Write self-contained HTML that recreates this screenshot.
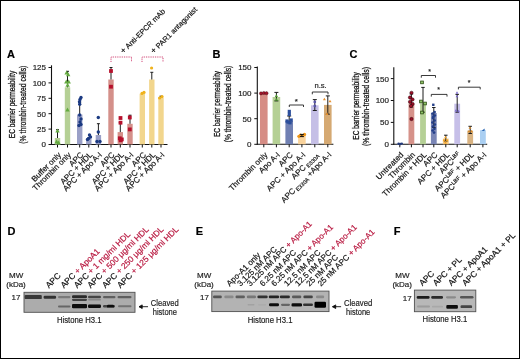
<!DOCTYPE html>
<html><head><meta charset="utf-8"><style>
html,body{margin:0;padding:0;background:#fff;}
body{width:520px;height:359px;overflow:hidden;}
svg{display:block;will-change:transform;font-family:"Liberation Sans", sans-serif;}
</style></head><body>
<svg width="520" height="359" viewBox="0 0 520 359">
<defs><filter id="bl" x="-20%" y="-50%" width="140%" height="200%"><feGaussianBlur stdDeviation="0.65"/></filter></defs>
<rect x="0" y="0" width="520" height="359" fill="#fff"/>
<text x="7" y="57.5" font-size="11" text-anchor="start" fill="#000" font-weight="bold" stroke="#000" stroke-width="0.18">A</text>
<text x="15" y="104.5" font-size="9.6" text-anchor="middle" fill="#111" font-weight="normal" stroke="#111" stroke-width="0.28" transform="rotate(-90 15 104.5)" textLength="67.5" lengthAdjust="spacingAndGlyphs">EC barrier permeability</text>
<text x="25.8" y="104.7" font-size="9.6" text-anchor="middle" fill="#111" font-weight="normal" stroke="#111" stroke-width="0.28" transform="rotate(-90 25.8 104.7)" textLength="78" lengthAdjust="spacingAndGlyphs">(% thrombin-treated cells)</text>
<line x1="51.5" y1="65.3" x2="51.5" y2="145.0" stroke="#111" stroke-width="1.1"/>
<line x1="51.0" y1="144.5" x2="167.5" y2="144.5" stroke="#111" stroke-width="1.1"/>
<line x1="48.5" y1="144.5" x2="51.5" y2="144.5" stroke="#111" stroke-width="1"/>
<text x="46" y="147.4" font-size="8" text-anchor="end" fill="#222" font-weight="normal" stroke="#222" stroke-width="0.18">0</text>
<line x1="48.5" y1="129.1" x2="51.5" y2="129.1" stroke="#111" stroke-width="1"/>
<text x="46" y="132.0" font-size="8" text-anchor="end" fill="#222" font-weight="normal" stroke="#222" stroke-width="0.18">25</text>
<line x1="48.5" y1="113.7" x2="51.5" y2="113.7" stroke="#111" stroke-width="1"/>
<text x="46" y="116.60000000000001" font-size="8" text-anchor="end" fill="#222" font-weight="normal" stroke="#222" stroke-width="0.18">50</text>
<line x1="48.5" y1="98.3" x2="51.5" y2="98.3" stroke="#111" stroke-width="1"/>
<text x="46" y="101.2" font-size="8" text-anchor="end" fill="#222" font-weight="normal" stroke="#222" stroke-width="0.18">75</text>
<line x1="48.5" y1="82.9" x2="51.5" y2="82.9" stroke="#111" stroke-width="1"/>
<text x="46" y="85.80000000000001" font-size="8" text-anchor="end" fill="#222" font-weight="normal" stroke="#222" stroke-width="0.18">100</text>
<line x1="48.5" y1="67.5" x2="51.5" y2="67.5" stroke="#111" stroke-width="1"/>
<text x="46" y="70.4" font-size="8" text-anchor="end" fill="#222" font-weight="normal" stroke="#222" stroke-width="0.18">125</text>
<rect x="54.8" y="138" width="5.4" height="6.5" fill="#b5d095"/>
<line x1="57.5" y1="144.5" x2="57.5" y2="147.5" stroke="#111" stroke-width="1"/>
<rect x="64.8" y="87.3" width="5.4" height="57.2" fill="#b5d095"/>
<line x1="67.5" y1="144.5" x2="67.5" y2="147.5" stroke="#111" stroke-width="1"/>
<rect x="77.0" y="114.5" width="5.4" height="30.0" fill="#9aa0c7"/>
<line x1="79.7" y1="144.5" x2="79.7" y2="147.5" stroke="#111" stroke-width="1"/>
<rect x="86.1" y="138.5" width="5.4" height="6.0" fill="#9aa0c7"/>
<line x1="88.8" y1="144.5" x2="88.8" y2="147.5" stroke="#111" stroke-width="1"/>
<rect x="95.7" y="135" width="5.4" height="9.5" fill="#9aa0c7"/>
<line x1="98.4" y1="144.5" x2="98.4" y2="147.5" stroke="#111" stroke-width="1"/>
<rect x="108.3" y="79.5" width="5.4" height="65.0" fill="#d4908a"/>
<line x1="111" y1="144.5" x2="111" y2="147.5" stroke="#111" stroke-width="1"/>
<rect x="117.6" y="132.1" width="5.4" height="12.400000000000006" fill="#d4908a"/>
<line x1="120.3" y1="144.5" x2="120.3" y2="147.5" stroke="#111" stroke-width="1"/>
<rect x="127.3" y="123.8" width="5.4" height="20.700000000000003" fill="#d4908a"/>
<line x1="130" y1="144.5" x2="130" y2="147.5" stroke="#111" stroke-width="1"/>
<rect x="139.60000000000002" y="93.7" width="5.4" height="50.8" fill="#f2d68d"/>
<line x1="142.3" y1="144.5" x2="142.3" y2="147.5" stroke="#111" stroke-width="1"/>
<rect x="149.10000000000002" y="79.5" width="5.4" height="65.0" fill="#f2d68d"/>
<line x1="151.8" y1="144.5" x2="151.8" y2="147.5" stroke="#111" stroke-width="1"/>
<rect x="158.3" y="97.5" width="5.4" height="47.0" fill="#f2d68d"/>
<line x1="161" y1="144.5" x2="161" y2="147.5" stroke="#111" stroke-width="1"/>
<line x1="57.5" y1="129.7" x2="57.5" y2="138" stroke="#1c1c1c" stroke-width="1"/>
<line x1="56.0" y1="129.7" x2="59.0" y2="129.7" stroke="#1c1c1c" stroke-width="1"/>
<line x1="67.5" y1="71.3" x2="67.5" y2="87.3" stroke="#1c1c1c" stroke-width="1"/>
<line x1="66.0" y1="71.3" x2="69.0" y2="71.3" stroke="#1c1c1c" stroke-width="1"/>
<line x1="79.7" y1="102.2" x2="79.7" y2="114.5" stroke="#1c1c1c" stroke-width="1"/>
<line x1="78.2" y1="102.2" x2="81.2" y2="102.2" stroke="#1c1c1c" stroke-width="1"/>
<line x1="98.4" y1="123.7" x2="98.4" y2="135" stroke="#1c1c1c" stroke-width="1"/>
<line x1="96.9" y1="123.7" x2="99.9" y2="123.7" stroke="#1c1c1c" stroke-width="1"/>
<line x1="111" y1="67.5" x2="111" y2="79.5" stroke="#1c1c1c" stroke-width="1"/>
<line x1="109.5" y1="67.5" x2="112.5" y2="67.5" stroke="#1c1c1c" stroke-width="1"/>
<line x1="120.3" y1="122.7" x2="120.3" y2="132.1" stroke="#1c1c1c" stroke-width="1"/>
<line x1="118.8" y1="122.7" x2="121.8" y2="122.7" stroke="#1c1c1c" stroke-width="1"/>
<line x1="130" y1="115.2" x2="130" y2="123.8" stroke="#1c1c1c" stroke-width="1"/>
<line x1="128.5" y1="115.2" x2="131.5" y2="115.2" stroke="#1c1c1c" stroke-width="1"/>
<line x1="151.8" y1="72.3" x2="151.8" y2="79.5" stroke="#1c1c1c" stroke-width="1"/>
<line x1="150.3" y1="72.3" x2="153.3" y2="72.3" stroke="#1c1c1c" stroke-width="1"/>
<line x1="161" y1="96.2" x2="161" y2="97.5" stroke="#1c1c1c" stroke-width="1"/>
<line x1="159.5" y1="96.2" x2="162.5" y2="96.2" stroke="#1c1c1c" stroke-width="1"/>
<path d="M55.30,132.38L59.70,132.38L57.50,128.42Z" fill="#64aa40"/>
<path d="M54.40,143.58L58.80,143.58L56.60,139.62Z" fill="#64aa40"/>
<path d="M56.40,144.38L60.80,144.38L58.60,140.42Z" fill="#64aa40"/>
<path d="M64.40,74.58L68.80,74.58L66.60,70.62Z" fill="#64aa40"/>
<path d="M66.00,76.18L70.40,76.18L68.20,72.22Z" fill="#64aa40"/>
<path d="M64.10,83.58L68.50,83.58L66.30,79.62Z" fill="#64aa40"/>
<path d="M66.50,83.38L70.90,83.38L68.70,79.42Z" fill="#64aa40"/>
<path d="M65.40,86.78L69.80,86.78L67.60,82.82Z" fill="#64aa40"/>
<path d="M65.30,111.58L69.70,111.58L67.50,107.62Z" fill="#64aa40"/>
<circle cx="81" cy="97.5" r="1.7" fill="#1b3a82"/>
<circle cx="80" cy="99.5" r="1.7" fill="#1b3a82"/>
<circle cx="79.5" cy="101.7" r="1.7" fill="#1b3a82"/>
<circle cx="79.7" cy="104.3" r="1.7" fill="#1b3a82"/>
<circle cx="79.7" cy="115" r="1.7" fill="#1b3a82"/>
<circle cx="81" cy="119" r="1.7" fill="#1b3a82"/>
<circle cx="80" cy="122" r="1.7" fill="#1b3a82"/>
<circle cx="79" cy="125.5" r="1.7" fill="#1b3a82"/>
<circle cx="81" cy="124.5" r="1.7" fill="#1b3a82"/>
<circle cx="89.5" cy="135" r="1.7" fill="#1b3a82"/>
<circle cx="88.5" cy="138.5" r="1.7" fill="#1b3a82"/>
<circle cx="90.5" cy="137" r="1.7" fill="#1b3a82"/>
<circle cx="87.5" cy="139.5" r="1.7" fill="#1b3a82"/>
<circle cx="98.3" cy="117.5" r="1.7" fill="#1b3a82"/>
<circle cx="98.3" cy="132" r="1.7" fill="#1b3a82"/>
<circle cx="97" cy="141.5" r="1.7" fill="#1b3a82"/>
<circle cx="100" cy="141.5" r="1.7" fill="#1b3a82"/>
<rect x="109.10" y="69.10" width="3.8" height="3.8" fill="#b6102c"/>
<rect x="109.10" y="84.80" width="3.8" height="3.8" fill="#b6102c"/>
<rect x="118.60" y="116.10" width="3.8" height="3.8" fill="#b6102c"/>
<rect x="118.60" y="120.80" width="3.8" height="3.8" fill="#b6102c"/>
<rect x="117.90" y="136.40" width="3.8" height="3.8" fill="#b6102c"/>
<rect x="119.90" y="137.50" width="3.8" height="3.8" fill="#b6102c"/>
<rect x="118.70" y="138.40" width="3.8" height="3.8" fill="#b6102c"/>
<rect x="127.90" y="115.60" width="3.8" height="3.8" fill="#b6102c"/>
<rect x="127.90" y="127.50" width="3.8" height="3.8" fill="#b6102c"/>
<circle cx="142" cy="93.4" r="1.6" fill="#efb21c"/>
<circle cx="144" cy="92.4" r="1.6" fill="#efb21c"/>
<circle cx="151.6" cy="68" r="1.6" fill="#efb21c"/>
<circle cx="159.6" cy="98" r="1.6" fill="#efb21c"/>
<circle cx="162" cy="96.6" r="1.6" fill="#efb21c"/>
<path d="M111,62V57H131.5V62" fill="none" stroke="#cc3468" stroke-width="1" stroke-dasharray="0.9 0.9"/>
<path d="M142,62V57H163V62" fill="none" stroke="#cc3468" stroke-width="1" stroke-dasharray="0.9 0.9"/>
<text x="123.5" y="54" font-size="7.4" text-anchor="start" fill="#111" font-weight="normal" stroke="#111" stroke-width="0.18" transform="rotate(-45 123.5 54)"><tspan font-size="8.6">+</tspan> Anti-EPCR mAb</text>
<text x="153.8" y="54" font-size="7.4" text-anchor="start" fill="#111" font-weight="normal" stroke="#111" stroke-width="0.18" transform="rotate(-45 153.8 54)"><tspan font-size="8.6">+</tspan> PAR1 antagonist</text>
<text x="61.7" y="155.3" font-size="8" text-anchor="end" fill="#111" font-weight="normal" stroke="#111" stroke-width="0.18" transform="rotate(-45 61.7 155.3)">Buffer only</text>
<text x="71.7" y="155.3" font-size="8" text-anchor="end" fill="#111" font-weight="normal" stroke="#111" stroke-width="0.18" transform="rotate(-45 71.7 155.3)">Thrombin only</text>
<text x="83.9" y="155.3" font-size="8" text-anchor="end" fill="#111" font-weight="normal" stroke="#111" stroke-width="0.18" transform="rotate(-45 83.9 155.3)">APC</text>
<text x="93.0" y="155.3" font-size="8" text-anchor="end" fill="#111" font-weight="normal" stroke="#111" stroke-width="0.18" transform="rotate(-45 93.0 155.3)">APC + HDL</text>
<text x="102.60000000000001" y="155.3" font-size="8" text-anchor="end" fill="#111" font-weight="normal" stroke="#111" stroke-width="0.18" transform="rotate(-45 102.60000000000001 155.3)">APC + Apo A-I</text>
<text x="115.2" y="155.3" font-size="8" text-anchor="end" fill="#111" font-weight="normal" stroke="#111" stroke-width="0.18" transform="rotate(-45 115.2 155.3)">APC</text>
<text x="124.5" y="155.3" font-size="8" text-anchor="end" fill="#111" font-weight="normal" stroke="#111" stroke-width="0.18" transform="rotate(-45 124.5 155.3)">APC + HDL</text>
<text x="134.2" y="155.3" font-size="8" text-anchor="end" fill="#111" font-weight="normal" stroke="#111" stroke-width="0.18" transform="rotate(-45 134.2 155.3)">APC + Apo A-I</text>
<text x="146.5" y="155.3" font-size="8" text-anchor="end" fill="#111" font-weight="normal" stroke="#111" stroke-width="0.18" transform="rotate(-45 146.5 155.3)">APC</text>
<text x="156.0" y="155.3" font-size="8" text-anchor="end" fill="#111" font-weight="normal" stroke="#111" stroke-width="0.18" transform="rotate(-45 156.0 155.3)">APC + HDL</text>
<text x="165.2" y="155.3" font-size="8" text-anchor="end" fill="#111" font-weight="normal" stroke="#111" stroke-width="0.18" transform="rotate(-45 165.2 155.3)">APC + Apo A-I</text>
<text x="212.5" y="57.5" font-size="11" text-anchor="start" fill="#000" font-weight="bold" stroke="#000" stroke-width="0.18">B</text>
<text x="220.3" y="104" font-size="9.4" text-anchor="middle" fill="#111" font-weight="normal" stroke="#111" stroke-width="0.28" transform="rotate(-90 220.3 104)" textLength="66" lengthAdjust="spacingAndGlyphs">EC barrier permeability</text>
<text x="231.2" y="104" font-size="9.4" text-anchor="middle" fill="#111" font-weight="normal" stroke="#111" stroke-width="0.28" transform="rotate(-90 231.2 104)" textLength="76.5" lengthAdjust="spacingAndGlyphs">(% thrombin-treated cells)</text>
<line x1="257.3" y1="66.5" x2="257.3" y2="144.8" stroke="#111" stroke-width="1.1"/>
<line x1="256.8" y1="144.3" x2="333.4" y2="144.3" stroke="#111" stroke-width="1.1"/>
<line x1="254.3" y1="144.3" x2="257.3" y2="144.3" stroke="#111" stroke-width="1"/>
<text x="251.5" y="147.20000000000002" font-size="8" text-anchor="end" fill="#222" font-weight="normal" stroke="#222" stroke-width="0.18">0</text>
<line x1="254.3" y1="118.70000000000002" x2="257.3" y2="118.70000000000002" stroke="#111" stroke-width="1"/>
<text x="251.5" y="121.60000000000002" font-size="8" text-anchor="end" fill="#222" font-weight="normal" stroke="#222" stroke-width="0.18">50</text>
<line x1="254.3" y1="93.10000000000001" x2="257.3" y2="93.10000000000001" stroke="#111" stroke-width="1"/>
<text x="251.5" y="96.00000000000001" font-size="8" text-anchor="end" fill="#222" font-weight="normal" stroke="#222" stroke-width="0.18">100</text>
<line x1="254.3" y1="67.50000000000001" x2="257.3" y2="67.50000000000001" stroke="#111" stroke-width="1"/>
<text x="251.5" y="70.40000000000002" font-size="8" text-anchor="end" fill="#222" font-weight="normal" stroke="#222" stroke-width="0.18">150</text>
<rect x="260.0" y="93.6" width="7.6" height="50.70000000000002" fill="#d68d85"/>
<line x1="263.8" y1="144.3" x2="263.8" y2="147.3" stroke="#111" stroke-width="1"/>
<rect x="272.59999999999997" y="97" width="7.6" height="47.30000000000001" fill="#b5d095"/>
<line x1="276.4" y1="144.3" x2="276.4" y2="147.3" stroke="#111" stroke-width="1"/>
<rect x="285.4" y="121" width="7.6" height="23.30000000000001" fill="#7080b2"/>
<line x1="289.2" y1="144.3" x2="289.2" y2="147.3" stroke="#111" stroke-width="1"/>
<rect x="298.09999999999997" y="135.5" width="7.6" height="8.800000000000011" fill="#f9d39c"/>
<line x1="301.9" y1="144.3" x2="301.9" y2="147.3" stroke="#111" stroke-width="1"/>
<rect x="311.0" y="105.3" width="7.6" height="39.000000000000014" fill="#c5bfe6"/>
<line x1="314.8" y1="144.3" x2="314.8" y2="147.3" stroke="#111" stroke-width="1"/>
<rect x="324.0" y="104.9" width="7.6" height="39.400000000000006" fill="#d5a972"/>
<line x1="327.8" y1="144.3" x2="327.8" y2="147.3" stroke="#111" stroke-width="1"/>
<line x1="276.4" y1="92.4" x2="276.4" y2="100.9" stroke="#1c1c1c" stroke-width="1"/>
<line x1="274.4" y1="92.4" x2="278.4" y2="92.4" stroke="#1c1c1c" stroke-width="1"/>
<line x1="274.4" y1="100.9" x2="278.4" y2="100.9" stroke="#1c1c1c" stroke-width="1"/>
<line x1="289.2" y1="116" x2="289.2" y2="122.6" stroke="#1c1c1c" stroke-width="1"/>
<line x1="287.2" y1="116" x2="291.2" y2="116" stroke="#1c1c1c" stroke-width="1"/>
<line x1="287.2" y1="122.6" x2="291.2" y2="122.6" stroke="#1c1c1c" stroke-width="1"/>
<line x1="314.8" y1="99.6" x2="314.8" y2="110.5" stroke="#1c1c1c" stroke-width="1"/>
<line x1="312.8" y1="99.6" x2="316.8" y2="99.6" stroke="#1c1c1c" stroke-width="1"/>
<line x1="312.8" y1="110.5" x2="316.8" y2="110.5" stroke="#1c1c1c" stroke-width="1"/>
<line x1="327.8" y1="95.9" x2="327.8" y2="114.2" stroke="#1c1c1c" stroke-width="1"/>
<line x1="325.8" y1="95.9" x2="329.8" y2="95.9" stroke="#1c1c1c" stroke-width="1"/>
<line x1="325.8" y1="114.2" x2="329.8" y2="114.2" stroke="#1c1c1c" stroke-width="1"/>
<circle cx="261" cy="93.4" r="1.6" fill="#a5152c" stroke="#3a0a10" stroke-width="0.4"/>
<circle cx="263.8" cy="93" r="1.6" fill="#a5152c" stroke="#3a0a10" stroke-width="0.4"/>
<circle cx="266.5" cy="93.2" r="1.6" fill="#a5152c" stroke="#3a0a10" stroke-width="0.4"/>
<path d="M274.80,97.04L278.00,97.04L276.40,94.16Z" fill="#4f9a30"/>
<path d="M274.80,100.64L278.00,100.64L276.40,97.76Z" fill="#4f9a30"/>
<rect x="287.70" y="109.80" width="3.2" height="3.2" fill="#2c4f9c"/>
<rect x="287.70" y="112.80" width="3.2" height="3.2" fill="#2c4f9c"/>
<rect x="285.40" y="119.40" width="3.2" height="3.2" fill="#2c4f9c"/>
<rect x="289.60" y="118.40" width="3.2" height="3.2" fill="#2c4f9c"/>
<rect x="288.40" y="121.20" width="3.2" height="3.2" fill="#2c4f9c"/>
<rect x="286.40" y="120.40" width="3.2" height="3.2" fill="#2c4f9c"/>
<circle cx="298.9" cy="136.3" r="1.65" fill="#ef961a"/>
<circle cx="304.5" cy="134.5" r="1.65" fill="#ef961a"/>
<circle cx="300.6" cy="135.2" r="1.65" fill="#ef961a"/>
<circle cx="302.8" cy="135.6" r="1.65" fill="#ef961a"/>
<path d="M322.90,100.35L325.90,100.35L324.40,97.65Z" fill="#e8902c"/>
<path d="M328.50,102.35L331.50,102.35L330.00,99.65Z" fill="#e8902c"/>
<path d="M325.50,114.95L328.50,114.95L327.00,112.25Z" fill="#e8902c"/>
<circle cx="314.8" cy="102" r="1.4" fill="#5a55a8"/>
<circle cx="314.8" cy="106" r="1.4" fill="#5a55a8"/>
<line x1="301.9" y1="134.4" x2="301.9" y2="136.6" stroke="#111" stroke-width="1"/>
<line x1="299.9" y1="134.4" x2="303.9" y2="134.4" stroke="#111" stroke-width="1"/>
<line x1="299.9" y1="136.6" x2="303.9" y2="136.6" stroke="#111" stroke-width="1"/>
<path d="M289.3,107V105H303.5V107" fill="none" stroke="#222" stroke-width="0.9"/>
<text x="296.4" y="104" font-size="8" text-anchor="middle" fill="#222" font-weight="normal" stroke="#222" stroke-width="0.18">*</text>
<path d="M312.3,94.3V92H328V94.3" fill="none" stroke="#222" stroke-width="0.9"/>
<text x="320.6" y="88.3" font-size="7.6" text-anchor="middle" fill="#222" font-weight="normal" stroke="#222" stroke-width="0.18">n.s.</text>
<text x="268.0" y="155.3" font-size="8" text-anchor="end" fill="#111" font-weight="normal" stroke="#111" stroke-width="0.18" transform="rotate(-45 268.0 155.3)">Thrombin only</text>
<text x="280.59999999999997" y="155.3" font-size="8" text-anchor="end" fill="#111" font-weight="normal" stroke="#111" stroke-width="0.18" transform="rotate(-45 280.59999999999997 155.3)">Apo A-I</text>
<text x="293.4" y="155.3" font-size="8" text-anchor="end" fill="#111" font-weight="normal" stroke="#111" stroke-width="0.18" transform="rotate(-45 293.4 155.3)">APC</text>
<text x="306.09999999999997" y="155.3" font-size="8" text-anchor="end" fill="#111" font-weight="normal" stroke="#111" stroke-width="0.18" transform="rotate(-45 306.09999999999997 155.3)">APC + Apo A-I</text>
<text x="319.0" y="155.3" font-size="8" text-anchor="end" fill="#111" font-weight="normal" stroke="#111" stroke-width="0.18" transform="rotate(-45 319.0 155.3)">APC<tspan font-size="5.5" dy="1.6"> E330A</tspan></text>
<text x="332.0" y="155.3" font-size="8" text-anchor="end" fill="#111" font-weight="normal" stroke="#111" stroke-width="0.18" transform="rotate(-45 332.0 155.3)">APC<tspan font-size="5.5" dy="1.6"> E330A</tspan><tspan dy="-1.6"> +Apo A-I</tspan></text>
<text x="349.5" y="57.5" font-size="11" text-anchor="start" fill="#000" font-weight="bold" stroke="#000" stroke-width="0.18">C</text>
<text x="358.6" y="106" font-size="9.4" text-anchor="middle" fill="#111" font-weight="normal" stroke="#111" stroke-width="0.28" transform="rotate(-90 358.6 106)" textLength="67.5" lengthAdjust="spacingAndGlyphs">EC barrier permeability</text>
<text x="368.6" y="106.5" font-size="9.4" text-anchor="middle" fill="#111" font-weight="normal" stroke="#111" stroke-width="0.28" transform="rotate(-90 368.6 106.5)" textLength="79" lengthAdjust="spacingAndGlyphs">(% thrombin-treated cells)</text>
<line x1="393.8" y1="67.3" x2="393.8" y2="144.8" stroke="#111" stroke-width="1.1"/>
<line x1="393.3" y1="144.3" x2="487.2" y2="144.3" stroke="#111" stroke-width="1.1"/>
<line x1="390.8" y1="144.3" x2="393.8" y2="144.3" stroke="#111" stroke-width="1"/>
<text x="389" y="147.20000000000002" font-size="8" text-anchor="end" fill="#222" font-weight="normal" stroke="#222" stroke-width="0.18">0</text>
<line x1="390.8" y1="122.4" x2="393.8" y2="122.4" stroke="#111" stroke-width="1"/>
<text x="389" y="125.30000000000001" font-size="8" text-anchor="end" fill="#222" font-weight="normal" stroke="#222" stroke-width="0.18">50</text>
<line x1="390.8" y1="100.50000000000001" x2="393.8" y2="100.50000000000001" stroke="#111" stroke-width="1"/>
<text x="389" y="103.40000000000002" font-size="8" text-anchor="end" fill="#222" font-weight="normal" stroke="#222" stroke-width="0.18">100</text>
<line x1="390.8" y1="78.60000000000002" x2="393.8" y2="78.60000000000002" stroke="#111" stroke-width="1"/>
<text x="389" y="81.50000000000003" font-size="8" text-anchor="end" fill="#222" font-weight="normal" stroke="#222" stroke-width="0.18">150</text>
<rect x="396.90000000000003" y="143.6" width="5.8" height="0.700000000000017" fill="#9aa6d0"/>
<line x1="399.8" y1="144.3" x2="399.8" y2="147.3" stroke="#111" stroke-width="1"/>
<rect x="408.5" y="103.3" width="5.8" height="41.000000000000014" fill="#d6928a"/>
<line x1="411.4" y1="144.3" x2="411.4" y2="147.3" stroke="#111" stroke-width="1"/>
<rect x="420.1" y="103.5" width="5.8" height="40.80000000000001" fill="#b5d095"/>
<line x1="423" y1="144.3" x2="423" y2="147.3" stroke="#111" stroke-width="1"/>
<rect x="430.90000000000003" y="113" width="5.8" height="31.30000000000001" fill="#7a86b6"/>
<line x1="433.8" y1="144.3" x2="433.8" y2="147.3" stroke="#111" stroke-width="1"/>
<rect x="442.90000000000003" y="138.6" width="5.8" height="5.700000000000017" fill="#f7c77c"/>
<line x1="445.8" y1="144.3" x2="445.8" y2="147.3" stroke="#111" stroke-width="1"/>
<rect x="454.3" y="103.7" width="5.8" height="40.60000000000001" fill="#c6bfe8"/>
<line x1="457.2" y1="144.3" x2="457.2" y2="147.3" stroke="#111" stroke-width="1"/>
<rect x="467.3" y="130.6" width="5.8" height="13.700000000000017" fill="#d9b382"/>
<line x1="470.2" y1="144.3" x2="470.2" y2="147.3" stroke="#111" stroke-width="1"/>
<rect x="480.0" y="130.2" width="5.8" height="14.100000000000023" fill="#aacff2"/>
<line x1="482.9" y1="144.3" x2="482.9" y2="147.3" stroke="#111" stroke-width="1"/>
<line x1="411.4" y1="94" x2="411.4" y2="107" stroke="#1c1c1c" stroke-width="1"/>
<line x1="409.65" y1="94" x2="413.15" y2="94" stroke="#1c1c1c" stroke-width="1"/>
<line x1="409.65" y1="107" x2="413.15" y2="107" stroke="#1c1c1c" stroke-width="1"/>
<line x1="423" y1="87.4" x2="423" y2="112.2" stroke="#1c1c1c" stroke-width="1"/>
<line x1="421.25" y1="87.4" x2="424.75" y2="87.4" stroke="#1c1c1c" stroke-width="1"/>
<line x1="421.25" y1="112.2" x2="424.75" y2="112.2" stroke="#1c1c1c" stroke-width="1"/>
<line x1="433.8" y1="107.5" x2="433.8" y2="127.5" stroke="#1c1c1c" stroke-width="1"/>
<line x1="432.05" y1="107.5" x2="435.55" y2="107.5" stroke="#1c1c1c" stroke-width="1"/>
<line x1="432.05" y1="127.5" x2="435.55" y2="127.5" stroke="#1c1c1c" stroke-width="1"/>
<line x1="445.8" y1="135.2" x2="445.8" y2="141" stroke="#1c1c1c" stroke-width="1"/>
<line x1="444.05" y1="135.2" x2="447.55" y2="135.2" stroke="#1c1c1c" stroke-width="1"/>
<line x1="444.05" y1="141" x2="447.55" y2="141" stroke="#1c1c1c" stroke-width="1"/>
<line x1="457.2" y1="94.4" x2="457.2" y2="112.2" stroke="#1c1c1c" stroke-width="1"/>
<line x1="455.45" y1="94.4" x2="458.95" y2="94.4" stroke="#1c1c1c" stroke-width="1"/>
<line x1="455.45" y1="112.2" x2="458.95" y2="112.2" stroke="#1c1c1c" stroke-width="1"/>
<line x1="470.2" y1="126.3" x2="470.2" y2="133.5" stroke="#1c1c1c" stroke-width="1"/>
<line x1="468.45" y1="126.3" x2="471.95" y2="126.3" stroke="#1c1c1c" stroke-width="1"/>
<line x1="468.45" y1="133.5" x2="471.95" y2="133.5" stroke="#1c1c1c" stroke-width="1"/>
<circle cx="398.6" cy="143.8" r="1.2" fill="#233a7a"/>
<circle cx="400.2" cy="144" r="1.2" fill="#233a7a"/>
<circle cx="401.8" cy="143.6" r="1.2" fill="#233a7a"/>
<circle cx="411.5" cy="92.8" r="1.65" fill="#9c1028" stroke="#2a0008" stroke-width="0.5"/>
<circle cx="410" cy="97.5" r="1.65" fill="#9c1028" stroke="#2a0008" stroke-width="0.5"/>
<circle cx="412.5" cy="99.5" r="1.65" fill="#9c1028" stroke="#2a0008" stroke-width="0.5"/>
<circle cx="410" cy="101.8" r="1.65" fill="#9c1028" stroke="#2a0008" stroke-width="0.5"/>
<circle cx="412.6" cy="104" r="1.65" fill="#9c1028" stroke="#2a0008" stroke-width="0.5"/>
<circle cx="411" cy="106" r="1.65" fill="#9c1028" stroke="#2a0008" stroke-width="0.5"/>
<circle cx="411.5" cy="119" r="1.65" fill="#9c1028" stroke="#2a0008" stroke-width="0.5"/>
<rect x="420.65" y="81.05" width="2.7" height="2.7" fill="#93c96a" stroke="#2a4a12" stroke-width="0.8"/>
<rect x="419.65" y="100.15" width="2.7" height="2.7" fill="#93c96a" stroke="#2a4a12" stroke-width="0.8"/>
<rect x="423.65" y="102.15" width="2.7" height="2.7" fill="#93c96a" stroke="#2a4a12" stroke-width="0.8"/>
<rect x="420.65" y="111.15" width="2.7" height="2.7" fill="#93c96a" stroke="#2a4a12" stroke-width="0.8"/>
<circle cx="434.6" cy="112" r="1.35" fill="#233f8a"/>
<circle cx="432.6" cy="113.5" r="1.35" fill="#233f8a"/>
<circle cx="434.8" cy="115.5" r="1.35" fill="#233f8a"/>
<circle cx="433" cy="118" r="1.35" fill="#233f8a"/>
<circle cx="434.6" cy="120.5" r="1.35" fill="#233f8a"/>
<circle cx="432.5" cy="122.5" r="1.35" fill="#233f8a"/>
<circle cx="434.8" cy="124.5" r="1.35" fill="#233f8a"/>
<circle cx="433" cy="126.5" r="1.35" fill="#233f8a"/>
<circle cx="434.4" cy="128.8" r="1.35" fill="#233f8a"/>
<circle cx="432.6" cy="130.5" r="1.35" fill="#233f8a"/>
<circle cx="434" cy="132.6" r="1.35" fill="#233f8a"/>
<circle cx="433.4" cy="116.6" r="1.35" fill="#233f8a"/>
<rect x="432.10" y="103.60" width="2.4" height="2.4" fill="#233f8a"/>
<path d="M444.10,138.26L446.90,138.26L445.50,135.74Z" fill="#f0a020"/>
<path d="M442.60,141.26L445.40,141.26L444.00,138.74Z" fill="#f0a020"/>
<path d="M445.60,141.26L448.40,141.26L447.00,138.74Z" fill="#f0a020"/>
<path d="M444.10,143.46L446.90,143.46L445.50,140.94Z" fill="#f0a020"/>
<path d="M455.60,93.76L458.40,93.76L457.00,91.24Z" fill="#7a6ac8"/>
<path d="M455.60,97.26L458.40,97.26L457.00,94.74Z" fill="#7a6ac8"/>
<path d="M454.60,111.46L457.40,111.46L456.00,108.94Z" fill="#7a6ac8"/>
<path d="M457.10,112.26L459.90,112.26L458.50,109.74Z" fill="#7a6ac8"/>
<path d="M468.60,128.76L471.40,128.76L470.00,126.24Z" fill="#d88a2a"/>
<path d="M467.60,132.26L470.40,132.26L469.00,129.74Z" fill="#d88a2a"/>
<path d="M470.10,132.26L472.90,132.26L471.50,129.74Z" fill="#d88a2a"/>
<path d="M481.5,130.8L484.8,128.6L484.4,131Z" fill="#1f5fb0"/>
<path d="M421.3,77.7V75.5H435.5V77.7" fill="none" stroke="#222" stroke-width="0.9"/>
<text x="429.5" y="73.5" font-size="7" text-anchor="middle" fill="#222" font-weight="normal" stroke="#222" stroke-width="0.18">*</text>
<path d="M431.3,96.60000000000001V94.4H447V96.60000000000001" fill="none" stroke="#222" stroke-width="0.9"/>
<text x="438.5" y="92.3" font-size="7" text-anchor="middle" fill="#222" font-weight="normal" stroke="#222" stroke-width="0.18">*</text>
<path d="M458.4,89.4V87.2H480.2V89.4" fill="none" stroke="#222" stroke-width="0.9"/>
<text x="469.2" y="85" font-size="7" text-anchor="middle" fill="#222" font-weight="normal" stroke="#222" stroke-width="0.18">*</text>
<text x="404.0" y="155.3" font-size="8" text-anchor="end" fill="#111" font-weight="normal" stroke="#111" stroke-width="0.18" transform="rotate(-45 404.0 155.3)">Untreated</text>
<text x="415.59999999999997" y="155.3" font-size="8" text-anchor="end" fill="#111" font-weight="normal" stroke="#111" stroke-width="0.18" transform="rotate(-45 415.59999999999997 155.3)">Thrombin</text>
<text x="427.2" y="155.3" font-size="8" text-anchor="end" fill="#111" font-weight="normal" stroke="#111" stroke-width="0.18" transform="rotate(-45 427.2 155.3)">Thrombin + HDL</text>
<text x="438.0" y="155.3" font-size="8" text-anchor="end" fill="#111" font-weight="normal" stroke="#111" stroke-width="0.18" transform="rotate(-45 438.0 155.3)">APC</text>
<text x="450.0" y="155.3" font-size="8" text-anchor="end" fill="#111" font-weight="normal" stroke="#111" stroke-width="0.18" transform="rotate(-45 450.0 155.3)">APC + HDL</text>
<text x="461.4" y="155.3" font-size="8" text-anchor="end" fill="#111" font-weight="normal" stroke="#111" stroke-width="0.18" transform="rotate(-45 461.4 155.3)">APC<tspan font-size="5.5" dy="-2.6">LBF</tspan></text>
<text x="474.4" y="155.3" font-size="8" text-anchor="end" fill="#111" font-weight="normal" stroke="#111" stroke-width="0.18" transform="rotate(-45 474.4 155.3)">APC<tspan font-size="5.5" dy="-2.6">LBF</tspan><tspan dy="2.6"> + HDL</tspan></text>
<text x="487.09999999999997" y="155.3" font-size="8" text-anchor="end" fill="#111" font-weight="normal" stroke="#111" stroke-width="0.18" transform="rotate(-45 487.09999999999997 155.3)">APC<tspan font-size="5.5" dy="-2.6">LBF</tspan><tspan dy="2.6"> + Apo A-I</tspan></text>
<text x="7.5" y="235" font-size="11" text-anchor="start" fill="#000" font-weight="bold" stroke="#000" stroke-width="0.18">D</text>
<text x="16.2" y="277.8" font-size="8" text-anchor="middle" fill="#222" font-weight="normal" stroke="#222" stroke-width="0.18">MW</text>
<text x="16" y="286.5" font-size="8" text-anchor="middle" fill="#222" font-weight="normal" stroke="#222" stroke-width="0.18">(kDa)</text>
<text x="16" y="300.3" font-size="8" text-anchor="middle" fill="#222" font-weight="normal" stroke="#222" stroke-width="0.18">17</text>
<rect x="24" y="292.3" width="111" height="20" fill="#acacac" stroke="#505050" stroke-width="0.9"/>
<rect x="24.6" y="294.90000000000003" width="17.2" height="4.2" rx="1.2" fill="#383838" filter="url(#bl)"/>
<rect x="43.6" y="295.7" width="12.5" height="3" rx="1.2" fill="#333" filter="url(#bl)"/>
<rect x="58" y="295.90000000000003" width="12.5" height="2.4" rx="1.2" fill="#7a7a7a" filter="url(#bl)"/>
<rect x="72" y="295.3" width="15" height="2.8" rx="1.2" fill="#2a2a2a" filter="url(#bl)"/>
<rect x="72" y="298.7" width="15" height="2.2" rx="1.1" fill="#404040" filter="url(#bl)"/>
<rect x="88" y="295.7" width="13" height="2.6" rx="1.2" fill="#454545" filter="url(#bl)"/>
<rect x="88" y="299.1" width="13" height="1.4" rx="0.7" fill="#888" filter="url(#bl)"/>
<rect x="103" y="295.90000000000003" width="12.5" height="2.4" rx="1.2" fill="#5e5e5e" filter="url(#bl)"/>
<rect x="117.5" y="295.90000000000003" width="14" height="2.4" rx="1.2" fill="#5e5e5e" filter="url(#bl)"/>
<rect x="58" y="305.4" width="12.5" height="2" rx="1.0" fill="#666" filter="url(#bl)"/>
<rect x="72" y="303.9" width="15" height="4.4" rx="1.2" fill="#080808" filter="url(#bl)"/>
<rect x="88" y="304.4" width="13" height="3.6" rx="1.2" fill="#0c0c0c" filter="url(#bl)"/>
<rect x="103" y="304.9" width="12" height="2.6" rx="1.2" fill="#444" filter="url(#bl)"/>
<rect x="107" y="304.8" width="7" height="2.8" rx="1.2" fill="#111" filter="url(#bl)"/>
<rect x="118" y="305.3" width="13.5" height="2" rx="1.0" fill="#737373" filter="url(#bl)"/>
<text x="79.2" y="322.7" font-size="8.4" text-anchor="middle" fill="#222" font-weight="normal" stroke="#222" stroke-width="0.18" textLength="44.6" lengthAdjust="spacingAndGlyphs">Histone H3.1</text>
<path d="M139,306.7H148M139,306.7L142.2,304.9L142.2,308.5Z" stroke="#111" stroke-width="0.9" fill="#111"/>
<text x="164.75" y="306.1" font-size="8.9" text-anchor="middle" fill="#222" font-weight="normal" stroke="#222" stroke-width="0.18" textLength="27.9" lengthAdjust="spacingAndGlyphs">Cleaved</text>
<text x="164.85" y="315.4" font-size="8.9" text-anchor="middle" fill="#222" font-weight="normal" stroke="#222" stroke-width="0.18" textLength="24.3" lengthAdjust="spacingAndGlyphs">histone</text>
<text x="49.0" y="288.4" font-size="8.4" text-anchor="start" fill="#111" font-weight="normal" stroke="#111" stroke-width="0.18" transform="rotate(-45 49.0 288.4)">APC</text>
<text x="63.9" y="288.4" font-size="8.4" text-anchor="start" fill="#111" font-weight="normal" stroke="#111" stroke-width="0.18" transform="rotate(-45 63.9 288.4)">APC <tspan fill="#b8173f" stroke="#b8173f">+ ApoA1</tspan></text>
<text x="77.3" y="288.4" font-size="8.4" text-anchor="start" fill="#111" font-weight="normal" stroke="#111" stroke-width="0.18" transform="rotate(-45 77.3 288.4)">APC <tspan fill="#b8173f" stroke="#b8173f">+ 1 mg/ml HDL</tspan></text>
<text x="90.8" y="288.4" font-size="8.4" text-anchor="start" fill="#111" font-weight="normal" stroke="#111" stroke-width="0.18" transform="rotate(-45 90.8 288.4)">APC <tspan fill="#b8173f" stroke="#b8173f">+ 500 μg/ml HDL</tspan></text>
<text x="105.6" y="288.4" font-size="8.4" text-anchor="start" fill="#111" font-weight="normal" stroke="#111" stroke-width="0.18" transform="rotate(-45 105.6 288.4)">APC <tspan fill="#b8173f" stroke="#b8173f">+ 250 μg/ml HDL</tspan></text>
<text x="120.5" y="288.4" font-size="8.4" text-anchor="start" fill="#111" font-weight="normal" stroke="#111" stroke-width="0.18" transform="rotate(-45 120.5 288.4)">APC <tspan fill="#b8173f" stroke="#b8173f">+ 125 μg/ml HDL</tspan></text>
<text x="195.8" y="235" font-size="11" text-anchor="start" fill="#000" font-weight="bold" stroke="#000" stroke-width="0.18">E</text>
<text x="204.2" y="277.8" font-size="8" text-anchor="middle" fill="#222" font-weight="normal" stroke="#222" stroke-width="0.18">MW</text>
<text x="204" y="286.5" font-size="8" text-anchor="middle" fill="#222" font-weight="normal" stroke="#222" stroke-width="0.18">(kDa)</text>
<text x="204.4" y="300.3" font-size="8" text-anchor="middle" fill="#222" font-weight="normal" stroke="#222" stroke-width="0.18">17</text>
<rect x="211.8" y="291.1" width="117.2" height="20.5" fill="#b3b3b3" stroke="#505050" stroke-width="0.9"/>
<rect x="213" y="295.6" width="8.8" height="2.6" rx="1.2" fill="#555" filter="url(#bl)"/>
<rect x="224.3" y="295.6" width="9.3" height="2.6" rx="1.2" fill="#8a8a8a" filter="url(#bl)"/>
<rect x="235.5" y="295.6" width="9.4" height="2.6" rx="1.2" fill="#5e5e5e" filter="url(#bl)"/>
<rect x="246.8" y="295.6" width="9.2" height="2.6" rx="1.2" fill="#777" filter="url(#bl)"/>
<rect x="257.4" y="295.6" width="10.3" height="2.6" rx="1.2" fill="#333" filter="url(#bl)"/>
<rect x="268.8" y="295.6" width="10.3" height="2.6" rx="1.2" fill="#222" filter="url(#bl)"/>
<rect x="279.8" y="295.6" width="10.1" height="2.6" rx="1.2" fill="#2a2a2a" filter="url(#bl)"/>
<rect x="292" y="295.6" width="9.3" height="2.6" rx="1.2" fill="#5a5a5a" filter="url(#bl)"/>
<rect x="303.4" y="295.6" width="9.4" height="2.6" rx="1.2" fill="#444" filter="url(#bl)"/>
<rect x="316" y="295.6" width="8.2" height="2.6" rx="1.2" fill="#8a8a8a" filter="url(#bl)"/>
<rect x="247.5" y="304.1" width="7" height="1.4" rx="0.7" fill="#a2a2a2" filter="url(#bl)"/>
<rect x="258" y="304.2" width="8" height="1.2" rx="0.6" fill="#aaaaaa" filter="url(#bl)"/>
<rect x="269" y="303.3" width="10" height="3" rx="1.2" fill="#111" filter="url(#bl)"/>
<rect x="281" y="303.7" width="9" height="2.2" rx="1.1" fill="#666" filter="url(#bl)"/>
<rect x="291.5" y="303.2" width="10.5" height="3.2" rx="1.2" fill="#111" filter="url(#bl)"/>
<rect x="303" y="303.6" width="10" height="2.4" rx="1.2" fill="#333" filter="url(#bl)"/>
<rect x="314.5" y="301.8" width="11.5" height="6" rx="1.2" fill="#050505" filter="url(#bl)"/>
<text x="270.1" y="322.5" font-size="8.4" text-anchor="middle" fill="#222" font-weight="normal" stroke="#222" stroke-width="0.18" textLength="44.8" lengthAdjust="spacingAndGlyphs">Histone H3.1</text>
<path d="M332.5,306.7H341.1M332.5,306.7L335.7,304.9L335.7,308.5Z" stroke="#111" stroke-width="0.9" fill="#111"/>
<text x="358.15" y="305.9" font-size="8.9" text-anchor="middle" fill="#222" font-weight="normal" stroke="#222" stroke-width="0.18" textLength="28.3" lengthAdjust="spacingAndGlyphs">Cleaved</text>
<text x="358.15" y="315.4" font-size="8.9" text-anchor="middle" fill="#222" font-weight="normal" stroke="#222" stroke-width="0.18" textLength="24.1" lengthAdjust="spacingAndGlyphs">histone</text>
<text x="229.8" y="286.8" font-size="8.1" text-anchor="start" fill="#111" font-weight="normal" stroke="#111" stroke-width="0.18" transform="rotate(-45 229.8 286.8)">Apo-A1 only</text>
<text x="240.5" y="286.8" font-size="8.1" text-anchor="start" fill="#111" font-weight="normal" stroke="#111" stroke-width="0.18" transform="rotate(-45 240.5 286.8)">3.125 nM APC</text>
<text x="250.3" y="286.8" font-size="8.1" text-anchor="start" fill="#111" font-weight="normal" stroke="#111" stroke-width="0.18" transform="rotate(-45 250.3 286.8)">3.125 nM APC <tspan fill="#b8173f" stroke="#b8173f">+ Apo-A1</tspan></text>
<text x="263.0" y="286.8" font-size="8.1" text-anchor="start" fill="#111" font-weight="normal" stroke="#111" stroke-width="0.18" transform="rotate(-45 263.0 286.8)">6.25 nM APC</text>
<text x="274.6" y="286.8" font-size="8.1" text-anchor="start" fill="#111" font-weight="normal" stroke="#111" stroke-width="0.18" transform="rotate(-45 274.6 286.8)">6.25 nM APC <tspan fill="#b8173f" stroke="#b8173f">+ Apo-A1</tspan></text>
<text x="287.3" y="286.8" font-size="8.1" text-anchor="start" fill="#111" font-weight="normal" stroke="#111" stroke-width="0.18" transform="rotate(-45 287.3 286.8)">12.5 nM APC</text>
<text x="298.3" y="286.8" font-size="8.1" text-anchor="start" fill="#111" font-weight="normal" stroke="#111" stroke-width="0.18" transform="rotate(-45 298.3 286.8)">12.5 nM APC <tspan fill="#b8173f" stroke="#b8173f">+ Apo-A1</tspan></text>
<text x="309.6" y="286.8" font-size="8.1" text-anchor="start" fill="#111" font-weight="normal" stroke="#111" stroke-width="0.18" transform="rotate(-45 309.6 286.8)">25 nM APC</text>
<text x="320.9" y="286.8" font-size="8.1" text-anchor="start" fill="#111" font-weight="normal" stroke="#111" stroke-width="0.18" transform="rotate(-45 320.9 286.8)">25 nM APC <tspan fill="#b8173f" stroke="#b8173f">+ Apo-A1</tspan></text>
<text x="393.7" y="235" font-size="11" text-anchor="start" fill="#000" font-weight="bold" stroke="#000" stroke-width="0.18">F</text>
<text x="402.4" y="277.8" font-size="8" text-anchor="middle" fill="#222" font-weight="normal" stroke="#222" stroke-width="0.18">MW</text>
<text x="402.2" y="286.5" font-size="8" text-anchor="middle" fill="#222" font-weight="normal" stroke="#222" stroke-width="0.18">(kDa)</text>
<text x="407.2" y="300.5" font-size="8" text-anchor="middle" fill="#222" font-weight="normal" stroke="#222" stroke-width="0.18">17</text>
<rect x="414.4" y="290.1" width="61.4" height="21.6" fill="#b8b8b8" stroke="#505050" stroke-width="0.9"/>
<rect x="416.7" y="295.9" width="12.9" height="2.8" rx="1.2" fill="#1e1e1e" filter="url(#bl)"/>
<rect x="431.2" y="295.9" width="11.8" height="2.8" rx="1.2" fill="#2a2a2a" filter="url(#bl)"/>
<rect x="446" y="296.2" width="10" height="2.2" rx="1.1" fill="#8a8a8a" filter="url(#bl)"/>
<rect x="460" y="296.09999999999997" width="13.5" height="2.4" rx="1.2" fill="#555" filter="url(#bl)"/>
<rect x="417" y="305.6" width="13" height="2" rx="1.0" fill="#9c9c9c" filter="url(#bl)"/>
<rect x="432" y="305.8" width="11" height="1.7" rx="0.85" fill="#a8a8a8" filter="url(#bl)"/>
<rect x="446.3" y="304.9" width="11.6" height="3.8" rx="1.2" fill="#0a0a0a" filter="url(#bl)"/>
<rect x="460.5" y="305.3" width="11.6" height="2.8" rx="1.2" fill="#444" filter="url(#bl)"/>
<text x="444.9" y="321.6" font-size="8.4" text-anchor="middle" fill="#222" font-weight="normal" stroke="#222" stroke-width="0.18" textLength="44.6" lengthAdjust="spacingAndGlyphs">Histone H3.1</text>
<text x="422.59999999999997" y="286.3" font-size="8.4" text-anchor="start" fill="#111" font-weight="normal" stroke="#111" stroke-width="0.18" transform="rotate(-45 422.59999999999997 286.3)">APC</text>
<text x="436.2" y="286.3" font-size="8.4" text-anchor="start" fill="#111" font-weight="normal" stroke="#111" stroke-width="0.18" transform="rotate(-45 436.2 286.3)">APC + PL</text>
<text x="451.59999999999997" y="286.3" font-size="8.4" text-anchor="start" fill="#111" font-weight="normal" stroke="#111" stroke-width="0.18" transform="rotate(-45 451.59999999999997 286.3)">APC + ApoA1</text>
<text x="465.5" y="286.3" font-size="8.4" text-anchor="start" fill="#111" font-weight="normal" stroke="#111" stroke-width="0.18" transform="rotate(-45 465.5 286.3)">APC + ApoA1 + PL</text>
<rect x="0.5" y="0.5" width="519" height="358" fill="none" stroke="#000" stroke-width="1"/>
</svg>
</body></html>
